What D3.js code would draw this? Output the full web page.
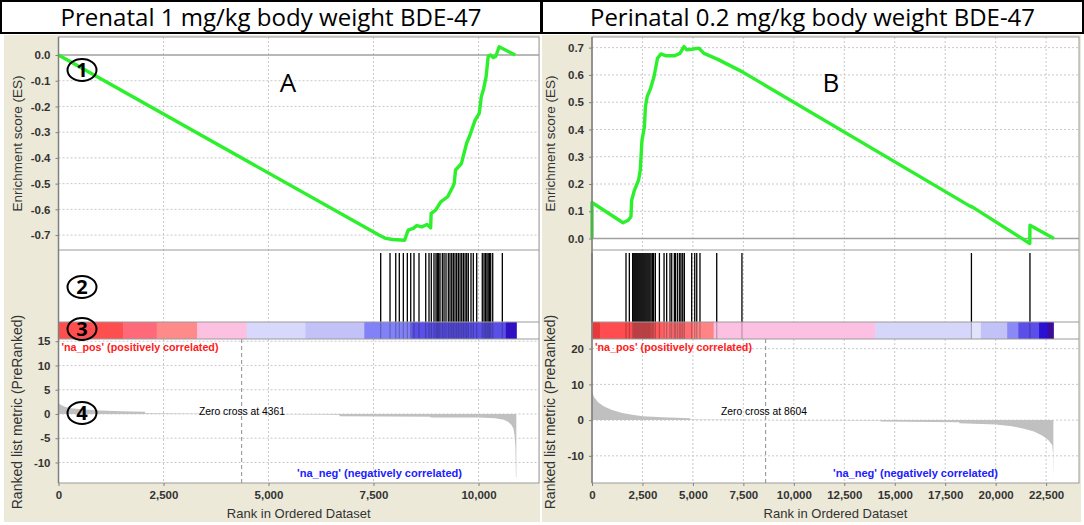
<!DOCTYPE html>
<html>
<head>
<meta charset="utf-8">
<script src="https://cdn.jsdelivr.net/npm/d3@7"></script>
<style>
body { margin: 0; background: #fff; }
svg { display: block; }
</style>
</head>
<body>
<div id="chart"></div>
<script>
// values

var titles = ["Prenatal 1 mg/kg body weight BDE-47", "Perinatal 0.2 mg/kg body weight BDE-47"];
var letters = ["A", "B"];
var zeroCross = [4361, 8604];

// --- panel A (prenatal)
var leftEsRank = [0, 7629, 7793, 7956, 8242, 8283, 8324, 8447, 8529, 8651, 8774, 8860, 8872, 8979, 9101, 9265, 9388, 9420, 9453, 9592, 9715, 9797, 9919, 10017, 10066, 10124, 10181, 10230, 10287, 10350, 10410, 10491, 10875];
var leftEsVal = [0, -0.70, -0.713, -0.717, -0.72, -0.70, -0.681, -0.674, -0.663, -0.668, -0.659, -0.672, -0.616, -0.603, -0.571, -0.551, -0.512, -0.50, -0.447, -0.422, -0.344, -0.311, -0.253, -0.227, -0.162, -0.130, -0.084, -0.006, 0, -0.01, -0.006, 0.032, 0.0];
var leftHits = [7671, 7893, 8029, 8114, 8210, 8305, 8386, 8464, 8583, 8743, 8821, 8876, 8940, 8988, 9019, 9052, 9083, 9138, 9179, 9226, 9281, 9321, 9362, 9400, 9440, 9480, 9520, 9560, 9600, 9640, 9680, 9719, 9757, 9821, 9876, 9957, 10090, 10131, 10165, 10200, 10230, 10260, 10290, 10338, 10567];
var leftMetricRank = [0, 50, 150, 300, 600, 1000, 1500, 2060, 2061, 3500, 4361, 5500, 6690, 6691, 8855, 8856, 10000, 10400, 10600, 10700, 10780, 10830, 10860, 10880, 10890, 10900];
var leftMetricVal = [2.3, 1.9, 1.5, 1.2, 0.9, 0.7, 0.55, 0.45, 0.15, 0.05, 0, -0.08, -0.15, -0.45, -0.55, -0.7, -0.75, -0.9, -1.2, -1.6, -2.2, -3, -4.5, -7, -13, -13];
var leftBarEdges = [0, 1540, 2340, 3300, 4480, 5880, 7280, 8400, 10650, 10900];
var leftBarColors = ["#ff4e4e", "#ff6a7a", "#ff8a8a", "#fcc0e0", "#d8d8fc", "#c2c2f8", "#8282f8", "#5a50e8", "#3010c0"];
var leftXTicks = [0, 2500, 5000, 7500, 10000];
var leftEsTicks = [0, -0.1, -0.2, -0.3, -0.4, -0.5, -0.6, -0.7];
var leftMetricTicks = [15, 10, 5, 0, -5, -10];

// --- panel B (perinatal)
var rightEsRank = [0, 0, 1537, 1793, 1930, 1964, 2100, 2306, 2391, 2476, 2596, 2647, 2733, 2904, 3074, 3245, 3416, 3672, 4099, 4355, 4560, 4697, 4953, 5295, 5551, 6234, 7430, 18790, 18800, 21692, 21700, 22887];
var rightEsVal = [0, 0.132, 0.058, 0.067, 0.08, 0.14, 0.177, 0.214, 0.25, 0.36, 0.41, 0.483, 0.52, 0.551, 0.594, 0.661, 0.677, 0.67, 0.67, 0.679, 0.704, 0.692, 0.694, 0.698, 0.679, 0.657, 0.612, 0.116, 0.118, -0.018, 0.049, 0.0];
var rightHits = [0, 1685, 1850, 2015, 2070, 2120, 2170, 2220, 2270, 2320, 2370, 2420, 2470, 2520, 2570, 2620, 2670, 2720, 2770, 2820, 2870, 2925, 2990, 3055, 3140, 3340, 3570, 3700, 3865, 3950, 4080, 4145, 4245, 4345, 4410, 4495, 4575, 4940, 5090, 5190, 5350, 6180, 7430, 18800, 21700];
var rightMetricRank = [0, 100, 300, 600, 1000, 1500, 2000, 2500, 3500, 4870, 4871, 7000, 8604, 10000, 14300, 14301, 18200, 18201, 20000, 20800, 21400, 21900, 22300, 22600, 22800, 22840, 22860];
var rightMetricVal = [8, 6.5, 5, 3.8, 2.8, 2, 1.5, 1.1, 0.8, 0.55, 0.2, 0.1, 0, -0.05, -0.1, -0.4, -0.6, -0.9, -1.2, -1.7, -2.4, -3.2, -4.3, -5.5, -7, -9, -16];
var rightBarEdges = [0, 400, 2000, 3500, 5000, 6030, 14040, 18800, 19270, 20570, 21120, 22150, 22570, 22860];
var rightBarColors = ["#e8383c", "#ff4c50", "#ff5a5e", "#ff6e72", "#ff8486", "#fcc0e2", "#d6d6fa", "#e2e2fa", "#c2c2f8", "#8a8af6", "#5c4ee8", "#2a12d2", "#3c0c9c"];
var rightXTicks = [0, 2500, 5000, 7500, 10000, 12500, 15000, 17500, 20000, 22500];
var rightEsTicks = [0, 0.1, 0.2, 0.3, 0.4, 0.5, 0.6, 0.7];
var rightMetricTicks = [20, 10, 0, -10];

var loc = d3.formatLocale({decimal: ".", thousands: ",", grouping: [3], currency: ["", ""], minus: "-"});
var fmtRank = loc.format(",");
var fmtEs = loc.format(".1f");
var fmtMet = loc.format("d");

var svg = d3.select("#chart").append("svg")
    .attr("width", 1084)
    .attr("height", 525);

var esTop = 37, esBot = 250, hitBot = 322, barBot = 339, metBot = 483;
var tickFont = "'Liberation Sans', Arial, sans-serif";

function zip(a, b) {
    return a.map(function (d, i) { return [d, b[i]]; });
}

function drawPanel(p) {
    var g = svg.append("g");

    // beige frame and title box
    g.append("rect").attr("x", p.bgX).attr("y", 35).attr("width", p.bgW).attr("height", 487).attr("fill", "#ece9d8");
    g.append("rect").attr("x", p.boxX).attr("y", 1).attr("width", p.boxW).attr("height", 32)
        .attr("fill", "#fff").attr("stroke", "#000").attr("stroke-width", 2);
    g.append("text").attr("x", p.boxX + p.boxW / 2).attr("y", 26)
        .attr("text-anchor", "middle")
        .style("font-family", "'Open Sans', sans-serif").style("font-size", "23px")
        .attr("textLength", p.titleW).attr("lengthAdjust", "spacingAndGlyphs")
        .text(p.title);

    var x = d3.scaleLinear().domain([0, p.xMax]).range([p.x0, p.x1]);
    var yEs = d3.scaleLinear().domain(p.esDomain).range([esBot, esTop]);
    var yMet = d3.scaleLinear().domain(p.metDomain).range([metBot, barBot]);

    g.append("rect").attr("x", p.x0).attr("y", esTop).attr("width", p.x1 - p.x0).attr("height", metBot - esTop).attr("fill", "#fff");

    // dotted grid
    var grid = g.append("g").attr("stroke", "#c8c8c8").attr("stroke-dasharray", "2,2").attr("stroke-width", 1);
    p.xTicks.slice(1).forEach(function (t) {
        grid.append("line").attr("x1", x(t)).attr("x2", x(t)).attr("y1", esTop).attr("y2", hitBot);
        grid.append("line").attr("x1", x(t)).attr("x2", x(t)).attr("y1", barBot).attr("y2", metBot);
    });
    p.esTicks.forEach(function (t) {
        if (t !== 0) grid.append("line").attr("x1", p.x0).attr("x2", p.x1).attr("y1", yEs(t)).attr("y2", yEs(t));
    });
    p.metTicks.forEach(function (t) {
        grid.append("line").attr("x1", p.x0).attr("x2", p.x1).attr("y1", yMet(t)).attr("y2", yMet(t));
    });

    // zero line in ES panel
    g.append("line").attr("x1", p.x0).attr("x2", p.x1).attr("y1", yEs(0)).attr("y2", yEs(0))
        .attr("stroke", "#a0a0a0").attr("stroke-width", 1.5);

    // running enrichment score
    g.append("path").datum(zip(p.esRank, p.esVal))
        .attr("fill", "none").attr("stroke", "#2cf02c").attr("stroke-width", 3.4)
        .attr("stroke-linejoin", "round")
        .attr("d", d3.line().x(function (d) { return x(d[0]); }).y(function (d) { return yEs(d[1]); }));

    // hits
    g.append("g").selectAll("line").data(p.hits).join("line")
        .attr("x1", function (d) { return x(d); }).attr("x2", function (d) { return x(d); })
        .attr("y1", esBot + 3).attr("y2", hitBot)
        .attr("stroke", "#000").attr("stroke-width", 1.3);

    // colour bar
    var segs = p.barColors.map(function (c, i) { return {a: p.barEdges[i], b: p.barEdges[i + 1], c: c}; });
    g.append("g").selectAll("rect").data(segs).join("rect")
        .attr("x", function (d) { return x(d.a); }).attr("width", function (d) { return x(d.b) - x(d.a) + 0.5; })
        .attr("y", hitBot).attr("height", barBot - hitBot)
        .attr("fill", function (d) { return d.c; });
    g.append("g").selectAll("line").data(p.hits).join("line")
        .attr("x1", function (d) { return x(d); }).attr("x2", function (d) { return x(d); })
        .attr("y1", hitBot).attr("y2", barBot)
        .attr("stroke", "#000").attr("stroke-opacity", 0.25).attr("stroke-width", 1.2);

    // ranked metric
    g.append("path").datum(zip(p.metRank, p.metVal))
        .attr("fill", "#c0c0c0")
        .attr("d", d3.area().x(function (d) { return x(d[0]); }).y0(yMet(0)).y1(function (d) { return yMet(d[1]); }));

    g.append("line").attr("x1", x(p.zero)).attr("x2", x(p.zero)).attr("y1", barBot).attr("y2", metBot)
        .attr("stroke", "#8c8c8c").attr("stroke-dasharray", "4,3");

    // panel separators and frame
    var fr = g.append("g").attr("stroke", "#9a9a9a").attr("fill", "none");
    [esBot, hitBot, barBot].forEach(function (yy) {
        fr.append("line").attr("x1", p.x0).attr("x2", p.x1).attr("y1", yy).attr("y2", yy);
    });
    fr.append("rect").attr("x", p.x0).attr("y", esTop).attr("width", p.x1 - p.x0).attr("height", metBot - esTop);
    g.append("line").attr("x1", p.x0).attr("x2", p.x0).attr("y1", esTop).attr("y2", metBot)
        .attr("stroke", "#808080").attr("stroke-width", 1.5);

    // axes
    var ax = g.append("g").attr("transform", "translate(0," + metBot + ")")
        .call(d3.axisBottom(x).tickValues(p.xTicks).tickFormat(fmtRank).tickSize(3).tickPadding(5));
    var ay1 = g.append("g").attr("transform", "translate(" + p.x0 + ",0)")
        .call(d3.axisLeft(yEs).tickValues(p.esTicks).tickFormat(fmtEs).tickSize(3).tickPadding(5));
    var ay2 = g.append("g").attr("transform", "translate(" + p.x0 + ",0)")
        .call(d3.axisLeft(yMet).tickValues(p.metTicks).tickFormat(fmtMet).tickSize(3).tickPadding(5));
    [ax, ay1, ay2].forEach(function (a) {
        a.select(".domain").remove();
        a.selectAll("line").attr("stroke", "#808080");
        a.selectAll("text").style("font-family", tickFont).style("font-weight", "bold")
            .style("font-size", "11.5px").attr("fill", "#333");
    });

    // axis titles
    g.append("text").attr("x", (p.x0 + p.x1) / 2).attr("y", 518).attr("text-anchor", "middle")
        .style("font-family", tickFont).style("font-size", "13px").attr("fill", "#333")
        .text("Rank in Ordered Dataset");
    g.append("text").attr("transform", "translate(" + (p.x0 - 37) + "," + ((esTop + esBot) / 2) + ") rotate(-90)")
        .attr("text-anchor", "middle")
        .style("font-family", tickFont).style("font-size", "13.5px").attr("fill", "#333")
        .text("Enrichment score (ES)");
    g.append("text").attr("transform", "translate(" + (p.x0 - 37) + ",412) rotate(-90)")
        .attr("text-anchor", "middle")
        .style("font-family", tickFont).style("font-size", "14px").attr("fill", "#333")
        .text("Ranked list metric (PreRanked)");

    // annotations
    g.append("text").attr("x", p.x0 + 3).attr("y", 351)
        .style("font-family", tickFont).style("font-size", "10.5px").style("font-weight", "bold")
        .attr("fill", "#ff2020").attr("textLength", 157).attr("lengthAdjust", "spacingAndGlyphs")
        .text("'na_pos' (positively correlated)");
    g.append("text").attr("x", p.negX).attr("y", 477)
        .style("font-family", tickFont).style("font-size", "10.5px").style("font-weight", "bold")
        .attr("fill", "#2020ff").attr("textLength", 165).attr("lengthAdjust", "spacingAndGlyphs")
        .text("'na_neg' (negatively correlated)");
    g.append("text").attr("x", p.zeroTextX).attr("y", 415)
        .style("font-family", tickFont).style("font-size", "10px").attr("fill", "#000")
        .attr("textLength", 86).attr("lengthAdjust", "spacingAndGlyphs")
        .text("Zero cross at " + p.zero);

    g.append("text").attr("x", p.letterX).attr("y", 92).attr("text-anchor", "middle")
        .style("font-family", "'Open Sans', sans-serif").style("font-size", "26px").attr("fill", "#000")
        .text(p.letter);

    return x;
}

drawPanel({
    title: titles[0], letter: letters[0], letterX: 288, zero: zeroCross[0],
    bgX: 4, bgW: 536, boxX: 1, boxW: 540, titleW: 421,
    x0: 58.5, x1: 539, xMax: 11440,
    esDomain: [-0.758, 0.07], metDomain: [-14.23, 15.46],
    xTicks: leftXTicks, esTicks: leftEsTicks, metTicks: leftMetricTicks,
    esRank: leftEsRank, esVal: leftEsVal, hits: leftHits,
    metRank: leftMetricRank, metVal: leftMetricVal,
    barEdges: leftBarEdges, barColors: leftBarColors,
    negX: 297, zeroTextX: 199
});

drawPanel({
    title: titles[1], letter: letters[1], letterX: 831, zero: zeroCross[1],
    bgX: 542, bgW: 539, boxX: 542, boxW: 541, titleW: 445,
    x0: 592, x1: 1079, xMax: 24130,
    esDomain: [-0.042, 0.739], metDomain: [-17.6, 22.7],
    xTicks: rightXTicks, esTicks: rightEsTicks, metTicks: rightMetricTicks,
    esRank: rightEsRank, esVal: rightEsVal, hits: rightHits,
    metRank: rightMetricRank, metVal: rightMetricVal,
    barEdges: rightBarEdges, barColors: rightBarColors,
    negX: 833, zeroTextX: 721
});

// circled markers on panel A
var markerNames = ["1", "2", "3", "4"];
var markerY = [70, 287, 329, 413];
var mk = svg.append("g");
markerNames.forEach(function (m, i) {
    mk.append("ellipse").attr("cx", 82).attr("cy", markerY[i]).attr("rx", 14.5).attr("ry", 11)
        .attr("fill", "none").attr("stroke", "#000").attr("stroke-width", 2);
    mk.append("text").attr("x", 82).attr("y", markerY[i] + 7).attr("text-anchor", "middle")
        .style("font-family", "'Open Sans', sans-serif").style("font-size", "20px").style("font-weight", "bold")
        .text(m);
});
</script>
</body>
</html>
